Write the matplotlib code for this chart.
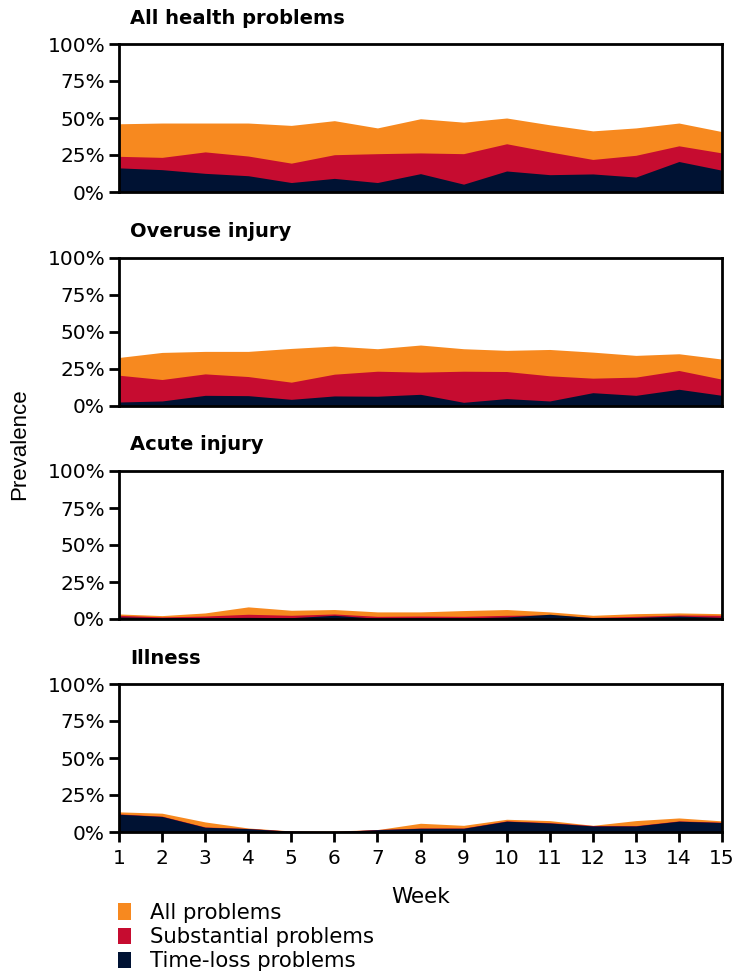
import numpy as np
import matplotlib
matplotlib.use("Agg")
import matplotlib.pyplot as plt
from matplotlib.patches import Patch

weeks = np.arange(1, 16)

panel_titles = ["All health problems", "Overuse injury", "Acute injury", "Illness"]

# prevalence in %
all_health_all = [46.1, 46.6, 46.6, 46.6, 45.0, 48.2, 43.3, 49.5, 47.2, 50.0, 45.4, 41.3, 43.3, 46.6, 40.8]
all_health_subst = [24.1, 23.4, 27.1, 24.3, 19.5, 25.2, 25.9, 26.4, 25.9, 32.6, 27.1, 22.0, 24.8, 31.2, 26.4]
all_health_tl = [16.3, 15.1, 12.6, 11.0, 6.4, 9.2, 6.4, 12.4, 5.3, 14.2, 11.7, 12.2, 10.1, 20.6, 14.7]

overuse_all = [32.8, 36.2, 36.9, 36.9, 38.9, 40.5, 38.7, 41.2, 38.7, 37.6, 38.2, 36.4, 34.2, 35.3, 31.7]
overuse_subst = [20.8, 17.9, 21.7, 19.9, 16.1, 21.5, 23.5, 22.9, 23.5, 23.3, 20.4, 18.8, 19.5, 24.0, 18.1]
overuse_tl = [2.7, 3.4, 7.2, 7.0, 4.5, 6.8, 6.6, 7.9, 2.5, 5.0, 3.4, 9.0, 7.2, 11.3, 7.2]

acute_all = [3.4, 2.3, 4.1, 8.2, 5.9, 6.4, 4.8, 4.8, 5.7, 6.4, 4.8, 2.5, 3.6, 4.1, 3.6]
acute_subst = [2.5, 1.4, 2.0, 3.2, 2.5, 3.4, 1.8, 2.0, 1.8, 2.5, 2.7, 1.1, 1.8, 2.7, 2.5]
acute_tl = [1.4, 0.9, 0.9, 1.1, 0.9, 2.5, 0.5, 0.9, 0.7, 1.4, 3.2, 0.9, 1.1, 2.0, 1.1]

illness_all = [13.6, 12.7, 6.8, 2.7, 0.7, 0.7, 1.6, 5.9, 4.5, 8.6, 7.7, 4.5, 7.7, 9.5, 7.5]
illness_subst = [12.2, 10.7, 3.4, 2.4, 0.6, 0.3, 1.7, 2.7, 2.7, 7.5, 6.3, 4.4, 4.3, 7.5, 6.6]
illness_tl = [12.0, 10.5, 3.2, 2.3, 0.5, 0.2, 1.6, 2.5, 2.5, 7.3, 6.1, 4.1, 4.1, 7.3, 6.4]

series = [
    (all_health_all, all_health_subst, all_health_tl),
    (overuse_all, overuse_subst, overuse_tl),
    (acute_all, acute_subst, acute_tl),
    (illness_all, illness_subst, illness_tl),
]

legend_labels = ["All problems", "Substantial problems", "Time-loss problems"]
colors = ["#F7891F", "#C60C30", "#001233"]

yticks = [0, 25, 50, 75, 100]
ytick_labels = ["0%", "25%", "50%", "75%", "100%"]

W, H = 741, 976
fig = plt.figure(figsize=(W / 100, H / 100), dpi=100)
plt.rcParams["font.family"] = ["DejaVu Sans"]

left, right = 119, 722
panel_px = [(44, 192), (258, 406), (471, 619), (684, 832)]

axes = []
for i, (top, bottom) in enumerate(panel_px):
    ax = fig.add_axes([left / W, 1 - bottom / H, (right - left) / W, (bottom - top) / H])
    for vals, col in zip(series[i], colors):
        ax.fill_between(weeks, 0, vals, color=col, linewidth=0)
    ax.set_xlim(1, 15)
    ax.set_ylim(0, 100)
    ax.set_yticks(yticks)
    ax.set_yticklabels(ytick_labels)
    ax.tick_params(axis="y", length=7, width=2, pad=3, labelsize=14.5)
    for sp in ax.spines.values():
        sp.set_linewidth(2)
    if i < 3:
        ax.set_xticks([])
    else:
        ax.set_xticks(weeks)
        ax.tick_params(axis="x", length=7, width=2, pad=5, labelsize=14.5)
    ax.text(130 / W, 1 - (top - 26) / H, panel_titles[i], transform=fig.transFigure,
            fontsize=14, fontweight="bold", ha="left", va="center")
    axes.append(ax)

fig.text(20 / W, 1 - 444 / H, "Prevalence", rotation=90, ha="center", va="center",
         fontsize=16, family="Liberation Sans")
fig.text(421 / W, 1 - 897 / H, "Week", ha="center", va="center", fontsize=15.5)

handles = [Patch(facecolor=c, edgecolor="none") for c in colors]
fig.legend(handles, legend_labels, loc="upper left", bbox_to_anchor=(118 / W, 1 - 903 / H),
           frameon=False, fontsize=15.3, handlelength=0.62, handleheight=0.8,
           handletextpad=0.9, labelspacing=0.19, borderaxespad=0, borderpad=0)

fig.savefig("out.png", dpi=100)
